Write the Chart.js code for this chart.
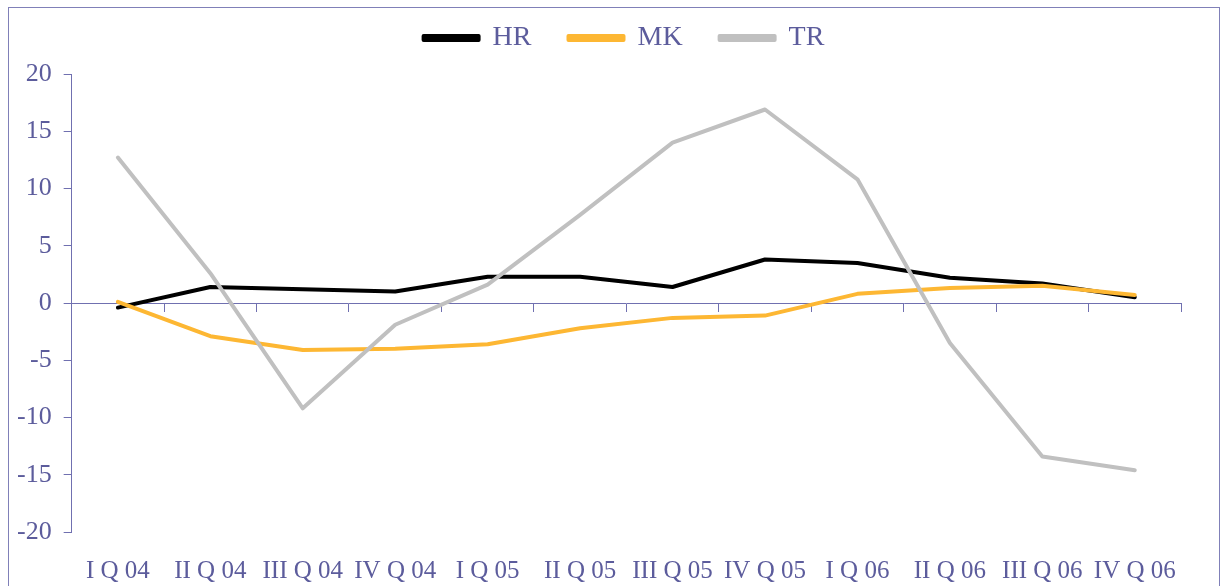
<!DOCTYPE html>
<html lang="en">
<head>
  <meta charset="UTF-8">
  <title>HR / MK / TR quarterly</title>
  <script src="https://cdn.jsdelivr.net/npm/chart.js"></script>
  <style>
    body {
      margin: 0;
      background: #ffffff;
      overflow: hidden;
    }
    .frame {
      position: absolute;
      left: 8px;
      top: 7px;
      width: 1212px;
      height: 620px;
      border: 1px solid #8080b8;
      box-sizing: border-box;
    }
    .chart-box {
      position: absolute;
      left: 1px;
      top: 1px;
      width: 1210px;
      height: 593px;
    }
  </style>
</head>
<body>
  <div class="frame">
    <div class="chart-box">
      <canvas id="quarterChart"></canvas>
    </div>
  </div>

  <script>
    // Data
    const quarters = ['I Q 04', 'II Q 04', 'III Q 04', 'IV Q 04', 'I Q 05', 'II Q 05',
                      'III Q 05', 'IV Q 05', 'I Q 06', 'II Q 06', 'III Q 06', 'IV Q 06'];
    const hrValues = [-0.4, 1.4, 1.2, 1.0, 2.3, 2.3, 1.4, 3.8, 3.5, 2.2, 1.7, 0.5];
    const mkValues = [0.1, -2.9, -4.1, -4.0, -3.6, -2.2, -1.3, -1.1, 0.8, 1.3, 1.5, 0.7];
    const trValues = [12.7, 2.6, -9.2, -1.9, 1.6, 7.7, 14.0, 16.9, 10.8, -3.5, -13.4, -14.6];
    const yTicks = [-20, -15, -10, -5, 0, 5, 10, 15, 20];

    const textColor = '#5c5c9c';
    const axisColor = '#7070b0';
    const serif = "'Liberation Serif', 'Times New Roman', serif";

    // legend: wide gaps between items but sitting close to the plot,
    // and centred over the whole frame rather than the padded box
    const legendTweak = {
      id: 'legendTweak',
      beforeInit(chart) {
        const fit = chart.legend.fit;
        chart.legend.fit = function () {
          fit.call(this);
          this.height += 12;
        };
      },
      afterLayout(chart) {
        chart.legend.left += 31;
        chart.legend.right += 31;
      }
    };

    const ctx = document.getElementById('quarterChart').getContext('2d');
    new Chart(ctx, {
      type: 'line',
      data: {
        labels: quarters,
        datasets: [
          { label: 'HR', data: hrValues, borderColor: '#000000', backgroundColor: '#000000', order: 3 },
          { label: 'MK', data: mkValues, borderColor: '#fdb733', backgroundColor: '#fdb733', order: 2 },
          { label: 'TR', data: trValues, borderColor: '#c0c0c0', backgroundColor: '#c0c0c0', order: 1 }
        ]
      },
      plugins: [legendTweak],
      options: {
        responsive: true,
        maintainAspectRatio: false,
        animation: false,
        elements: {
          line: { borderWidth: 4, tension: 0, borderCapStyle: 'round', borderJoinStyle: 'round' },
          point: { radius: 0, hoverRadius: 0 }
        },
        layout: { padding: { left: -5, right: 39, top: -22, bottom: 0 } },
        plugins: {
          tooltip: { enabled: false },
          legend: {
            position: 'top',
            labels: {
              boxWidth: 55,
              boxHeight: 4,
              padding: 37,
              color: textColor,
              font: { family: serif, size: 28 },
              sort: (a, b) => a.datasetIndex - b.datasetIndex
            }
          }
        },
        scales: {
          x: {
            type: 'category',
            position: { y: 0 },
            offset: true,
            grid: { offset: true, drawOnChartArea: false, tickLength: 8, color: axisColor, lineWidth: 1 },
            border: { color: axisColor, width: 1 },
            ticks: { display: false }
          },
          xLabels: {
            type: 'category',
            position: 'bottom',
            labels: quarters,
            offset: true,
            grid: { display: false },
            border: { display: false },
            ticks: {
              color: textColor,
              font: { family: serif, size: 25 },
              maxRotation: 0,
              autoSkip: false,
              padding: 16
            }
          },
          y: {
            min: -20,
            max: 20,
            afterBuildTicks: (scale) => { scale.ticks = yTicks.map(v => ({ value: v })); },
            grid: { drawOnChartArea: false, tickLength: 8, color: axisColor },
            border: { color: axisColor, width: 1 },
            ticks: {
              color: textColor,
              font: { family: serif, size: 26 },
              padding: 12
            }
          }
        }
      }
    });
  </script>
</body>
</html>
